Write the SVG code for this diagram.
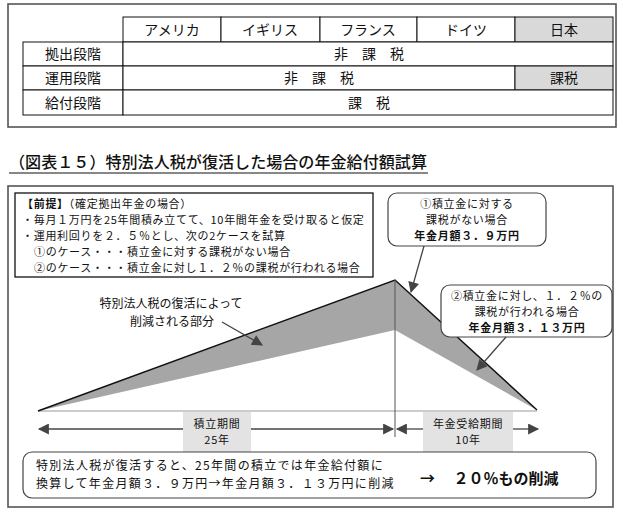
<svg xmlns="http://www.w3.org/2000/svg" width="623" height="517" viewBox="0 0 623 517">
<defs>
<style>
text{font-family:"Noto Sans CJK JP","Noto Sans",sans-serif;fill:#111}
.t14{font-size:14px}
.t12{font-size:12px}
.t11{font-size:11px;letter-spacing:0.7px}
.sum{font-size:12px;letter-spacing:1.3px}
.c{text-anchor:middle}
.b{font-weight:bold}
.cell{fill:#fff;stroke:#111;stroke-width:1}
.grey{fill:#d9d9d9;stroke:#111;stroke-width:1}
.frame{fill:#fff;stroke:#555;stroke-width:1.6}
.box{fill:#fff;stroke:#444;stroke-width:1.2}
.conn{stroke:#444;stroke-width:1.3;fill:none}
.lbl{fill:#e3e3e3}
</style>
<marker id="ah2" viewBox="0 0 10 10" refX="9" refY="5" markerWidth="13" markerHeight="11" markerUnits="userSpaceOnUse" orient="auto-start-reverse">
<path d="M0,0 L10,5 L0,10 z" fill="#444"/>
</marker>
</defs>
<rect width="623" height="517" fill="#fff"/>

<!-- Top table -->
<g id="table">
<rect class="frame" x="8" y="4" width="608" height="123"/>
<rect class="cell" x="123" y="17" width="98" height="25"/>
<rect class="cell" x="221" y="17" width="99" height="25"/>
<rect class="cell" x="320" y="17" width="97" height="25"/>
<rect class="cell" x="417" y="17" width="98" height="25"/>
<rect class="grey" x="515" y="17" width="98" height="25"/>
<text class="t14 c" x="172" y="35">アメリカ</text>
<text class="t14 c" x="270" y="35">イギリス</text>
<text class="t14 c" x="368" y="35">フランス</text>
<text class="t14 c" x="466" y="35">ドイツ</text>
<text class="t14 c" x="564" y="35">日本</text>
<rect class="cell" x="23" y="42" width="100" height="24"/>
<rect class="cell" x="123" y="42" width="490" height="24"/>
<text class="t14 c" x="73" y="59">拠出段階</text>
<text class="t14 c" x="369" y="59">非　課　税</text>
<rect class="cell" x="23" y="66" width="100" height="24"/>
<rect class="cell" x="123" y="66" width="392" height="24"/>
<rect class="grey" x="515" y="66" width="98" height="24"/>
<text class="t14 c" x="73" y="83">運用段階</text>
<text class="t14 c" x="319" y="83">非　課　税</text>
<text class="t14 c" x="564" y="83">課税</text>
<rect class="cell" x="23" y="90" width="100" height="25"/>
<rect class="cell" x="123" y="90" width="490" height="25"/>
<text class="t14 c" x="73" y="108">給付段階</text>
<text class="t14 c" x="369" y="108">課　税</text>
</g>

<!-- Title -->
<g id="title">
<text x="9" y="168" font-size="16" font-weight="500" textLength="418" lengthAdjust="spacingAndGlyphs">（図表１５）特別法人税が復活した場合の年金給付額試算</text>
<line x1="9" y1="173" x2="428" y2="173" stroke="#111" stroke-width="1"/>
</g>

<!-- Main frame -->
<rect class="frame" x="8" y="186" width="605" height="321"/>

<!-- Chart -->
<g id="chart">
<line x1="38" y1="411" x2="537" y2="411" stroke="#999" stroke-width="1.2"/>
<polygon points="38,411 395,280 537,410 395,330" fill="#a6a6a6"/>
<polyline points="38,411 395,280 537,410" fill="none" stroke="#111" stroke-width="1.5"/>
<line x1="395" y1="280" x2="395" y2="437" stroke="#555" stroke-width="1"/>
</g>

<!-- Premise box -->
<g id="premise">
<rect x="15" y="193" width="358" height="84" fill="#fff" stroke="#111" stroke-width="1.3"/>
<text class="t11" x="22" y="208"><tspan font-weight="bold">【前提】</tspan>（確定拠出年金の場合）</text>
<text class="t11" x="22" y="224">・毎月１万円を25年間積み立てて、10年間年金を受け取ると仮定</text>
<text class="t11" x="22" y="240">・運用利回りを２．５％とし、次の2ケースを試算</text>
<text class="t11" x="34" y="256">①のケース・・・積立金に対する課税がない場合</text>
<text class="t11" x="34" y="272">②のケース・・・積立金に対し１．２％の課税が行われる場合</text>
</g>

<!-- Callout 1 -->
<g id="callout1">
<rect class="box" x="388" y="193" width="158" height="53" rx="9"/>
<text class="t11 c" x="467" y="208">①積立金に対する</text>
<text class="t11 c" x="467" y="224">課税がない場合</text>
<text class="t11 c b" x="467" y="240">年金月額３．９万円</text>
</g>

<!-- Callout 2 -->
<g id="callout2">
<rect class="box" x="441" y="285" width="171" height="52" rx="9"/>
<text class="t11 c" x="527" y="300">②積立金に対し、１．２％の</text>
<text class="t11 c" x="527" y="316">課税が行われる場合</text>
<text class="t11 c b" x="527" y="332">年金月額３．１３万円</text>
</g>

<!-- Reduced part label -->
<g id="reduced-label">
<text class="t12 c" x="171" y="308">特別法人税の復活によって</text>
<text class="t12 c" x="172" y="326">削減される部分</text>
</g>

<!-- Period labels -->
<g id="period1">
<rect class="lbl" x="183" y="412" width="68" height="40"/>
<text class="t11 c" x="217" y="428">積立期間</text>
<text class="t11 c" x="217" y="444">25年</text>
</g>
<g id="period2">
<rect class="lbl" x="423" y="412" width="90" height="40"/>
<text class="t11 c" x="468" y="428">年金受給期間</text>
<text class="t11 c" x="468" y="444">10年</text>
</g>

<!-- Connectors -->
<g id="connectors">
<line class="conn" x1="424" y1="246" x2="411" y2="292" marker-end="url(#ah2)"/>
<line class="conn" x1="506" y1="337" x2="477" y2="370" marker-end="url(#ah2)"/>
<line class="conn" x1="222" y1="322" x2="262" y2="345" marker-end="url(#ah2)"/>
<line class="conn" x1="183" y1="429" x2="39" y2="429" marker-end="url(#ah2)"/>
<line class="conn" x1="251" y1="429" x2="393" y2="429" marker-end="url(#ah2)"/>
<line class="conn" x1="423" y1="429" x2="397" y2="429" marker-end="url(#ah2)"/>
<line class="conn" x1="513" y1="429" x2="538" y2="429" marker-end="url(#ah2)"/>
</g>

<!-- Bottom summary -->
<g id="summary">
<rect class="box" x="23" y="452" width="573" height="46" rx="9"/>
<text class="sum" x="36" y="470">特別法人税が復活すると、25年間の積立では年金給付額に</text>
<text class="sum" x="36" y="488">換算して年金月額３．９万円→年金月額３．１３万円に削減</text>
<text x="420" y="484" font-size="15" font-weight="bold" xml:space="preserve">→　 ２０％もの削減</text>
</g>
</svg>
